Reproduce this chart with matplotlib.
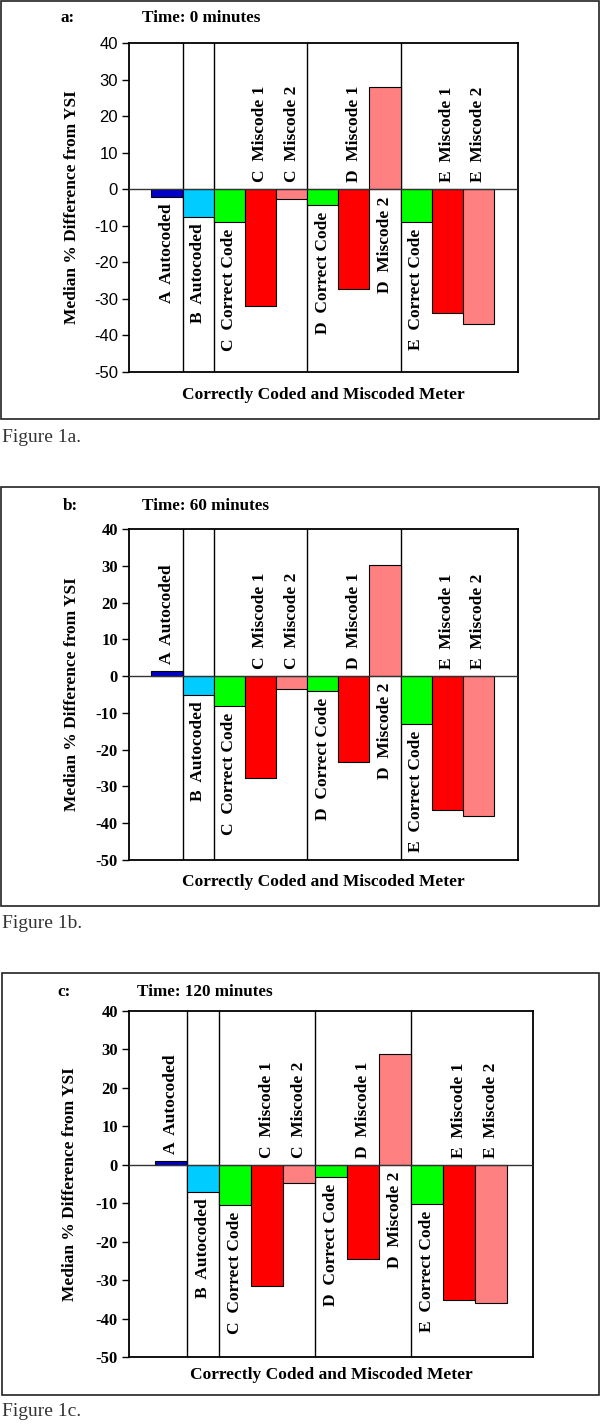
import matplotlib
matplotlib.use("Agg")
import matplotlib.pyplot as plt
from matplotlib.patches import Rectangle

W, H = 601, 1425

meters = ['A  Autocoded', 'B  Autocoded', 'C  Correct Code', 'C  Miscode 1', 'C  Miscode 2',
          'D  Correct Code', 'D  Miscode 1', 'D  Miscode 2',
          'E  Correct Code', 'E  Miscode 1', 'E  Miscode 2']

diff_0min = [-2.0, -7.5, -9.0, -32.0, -2.8, -4.3, -27.3, 28.0, -9.0, -33.8, -37.0]
diff_60min = [1.3, -5.0, -8.2, -27.7, -3.5, -4.1, -23.4, 30.2, -13.0, -36.4, -38.0]
diff_120min = [1.0, -7.0, -10.4, -31.5, -4.7, -3.1, -24.5, 28.9, -10.2, -35.2, -35.9]

yticks = [40, 30, 20, 10, 0, -10, -20, -30, -40, -50]

bar_colors = ['#0000c8', '#00ccff', '#00ff00', '#ff0000', '#ff8080',
              '#00ff00', '#ff0000', '#ff8080', '#00ff00', '#ff0000', '#ff8080']
separators = [0.5, 1.5, 4.5, 7.5]

fig = plt.figure(figsize=(W / 100, H / 100), dpi=100)
serif = 'Liberation Serif'


def fx(x):
    return x / W


def fy(y):
    return 1 - y / H


def panel(vals, box, ax_px, xlim, tag, title, tag_x, title_x, title_y, tick_font,
          xlabel_y, ylabel_x, caption, caption_y):
    # outer frame
    x0, y0, x1, y1 = box
    fig.patches.append(Rectangle((fx(x0), fy(y1)), fx(x1 - x0), (y1 - y0) / H,
                                 transform=fig.transFigure, fill=False,
                                 edgecolor='#222222', linewidth=1.2))
    l, t, r, b = ax_px
    ax = fig.add_axes([fx(l), fy(b), fx(r - l), (b - t) / H])
    xs = list(range(len(vals)))
    ax.bar(xs, vals, width=1.0, color=bar_colors, edgecolor='black', linewidth=0.8, zorder=2)
    ax.axhline(0, color='#333333', linewidth=1.0, zorder=3)
    for s in separators:
        ax.axvline(s, color='black', linewidth=1.0, zorder=1)
    ax.set_xlim(*xlim)
    ax.set_ylim(-50, 40)
    ax.set_xticks([])
    ax.set_yticks(yticks)
    if tick_font == 'sans':
        ax.set_yticklabels([str(v) for v in yticks], family='Liberation Sans', fontsize=12)
    else:
        ax.set_yticklabels([str(v) for v in yticks], family=serif, fontsize=12,
                           fontweight='bold')
    ax.tick_params(axis='y', direction='out', length=5, width=1, pad=3)
    for sp in ax.spines.values():
        sp.set_linewidth(1.3)
        sp.set_color('black')

    for x, v, name in zip(xs, vals, meters):
        if 'Miscode' in name:
            up = v < 0
            base = 0
        else:
            up = v > 0
            base = v
        ax.annotate(name, (x, base), xytext=(0, 5 if up else -5), textcoords='offset points',
                    rotation=90, ha='center', va='bottom' if up else 'top',
                    family=serif, fontweight='bold', fontsize=12.5, zorder=4)

    fig.text(fx(tag_x), fy(title_y), tag, family=serif, fontweight='bold', fontsize=12.3,
             ha='left', va='center')
    fig.text(fx(title_x), fy(title_y), title, family=serif, fontweight='bold', fontsize=12.3,
             ha='left', va='center')
    fig.text(fx((l + r) / 2), fy(xlabel_y), 'Correctly Coded and Miscoded Meter',
             family=serif, fontweight='bold', fontsize=12.5, ha='center', va='center')
    fig.text(fx(ylabel_x), fy((t + b) / 2), 'Median % Difference from YSI', rotation=90,
             family=serif, fontweight='bold', fontsize=12.5, ha='center', va='center')
    fig.text(fx(2), fy(caption_y), caption, family=serif, fontsize=14, color='#333333',
             ha='left', va='center')
    return ax


panel(diff_0min, (1, 1, 599, 419), (129, 43, 518, 372), (-1.22, 11.27),
      'a:', 'Time: 0 minutes', 61, 142, 18, 'sans', 395, 72, 'Figure 1a.', 437)
panel(diff_60min, (1, 487, 599, 906), (129, 529, 518, 860), (-1.22, 11.27),
      'b:', 'Time: 60 minutes', 63, 142, 506, 'serif', 882, 72, 'Figure 1b.', 924)
panel(diff_120min, (2, 973, 599, 1395), (129, 1011, 533, 1357), (-1.3, 11.3),
      'c:', 'Time: 120 minutes', 57, 137, 992, 'serif', 1375, 70, 'Figure 1c.', 1412)

fig.savefig('out.png', dpi=100)
